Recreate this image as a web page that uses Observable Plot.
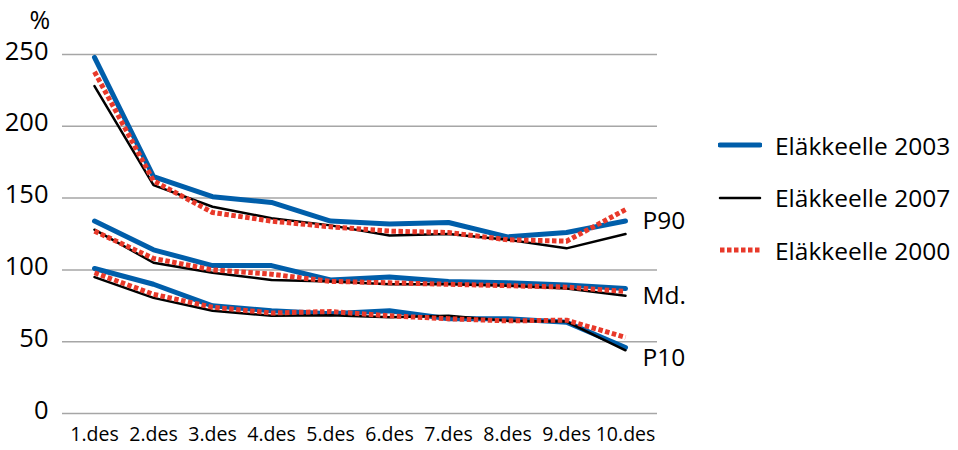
<!DOCTYPE html>
<html>
<head>
<meta charset="utf-8">
<script src="https://cdn.jsdelivr.net/npm/d3@7"></script>
<script src="https://cdn.jsdelivr.net/npm/@observablehq/plot@0.6"></script>
<style>
  html, body { margin: 0; padding: 0; background: #fff; }
  #wrap { position: relative; width: 958px; height: 450px; font-family: "Open Sans", sans-serif; }
  #legend { position: absolute; left: 718px; top: 119px; }
  .item { display: flex; align-items: center; height: 52.5px; font-size: 24.5px; color: #000; }
  .item svg { margin-right: 13px; }
</style>
</head>
<body>
<div id="wrap"></div>
<script>
const categories = ["1.des","2.des","3.des","4.des","5.des","6.des","7.des","8.des","9.des","10.des"];
const yTicks = [0, 50, 100, 150, 200, 250];
const seriesNames = ["Eläkkeelle 2003", "Eläkkeelle 2007", "Eläkkeelle 2000"];
const statNames = ["P90", "Md.", "P10"];

// P90
const p90_2003 = [248, 165, 151, 147, 134, 132, 133, 123, 126, 134];
const p90_2007 = [228, 159, 144, 136, 131, 124, 125, 121, 115, 125];
const p90_2000 = [238, 162, 140, 134, 130, 127, 126, 121, 120, 142];
// Median
const md_2003 = [134, 114, 103, 103, 93, 95, 92, 91, 89.5, 87];
const md_2007 = [128, 105, 98, 93, 92, 90, 90, 89, 87, 82];
const md_2000 = [127, 108, 100, 97, 92, 91, 90, 89, 88, 85];
// P10
const p10_2003 = [101, 90, 75, 71.5, 69.5, 71.5, 66, 66, 63.5, 46];
const p10_2007 = [95, 80.5, 71.5, 68, 68.5, 67, 68, 64.5, 64, 44];
const p10_2000 = [98, 83, 74, 70, 71, 68, 66, 64.5, 65, 53];

const groups = [
  {stat: "P90", s: [p90_2003, p90_2007, p90_2000], dy: 0},
  {stat: "Md.", s: [md_2003, md_2007, md_2000], dy: 4},
  {stat: "P10", s: [p10_2003, p10_2007, p10_2000], dy: 13}
];

const styles = {
  "Eläkkeelle 2003": {stroke: "#005EAA", strokeWidth: 5, dash: null},
  "Eläkkeelle 2007": {stroke: "#000000", strokeWidth: 2.5, dash: null},
  "Eläkkeelle 2000": {stroke: "#E8392A", strokeWidth: 5, dash: "4.5,2.5"}
};

const rows = [];
groups.forEach(g => g.s.forEach((arr, si) => arr.forEach((v, i) =>
  rows.push({decile: categories[i], value: v, series: seriesNames[si], stat: g.stat}))));

const lineMarks = seriesNames.map(name => {
  const st = styles[name];
  return Plot.line(rows.filter(d => d.series === name), {
    x: "decile", y: "value", z: "stat",
    stroke: st.stroke, strokeWidth: st.strokeWidth,
    strokeDasharray: st.dash, strokeLinecap: st.dash ? "butt" : "round",
    strokeLinejoin: "round"
  });
});

const labelMarks = groups.map(g => Plot.text([{
    stat: g.stat,
    decile: categories[categories.length - 1],
    value: d3.mean(g.s, a => a[a.length - 1])
  }], {
  x: "decile", y: "value", text: "stat",
  dx: 17, dy: g.dy, textAnchor: "start", lineAnchor: "middle", fontSize: 24.5, fill: "#000"
}));

const chart = Plot.plot({
  width: 958,
  height: 450,
  marginLeft: 62,
  marginRight: 301,
  marginTop: 54,
  marginBottom: 37,
  style: {fontFamily: "Open Sans, sans-serif", color: "#000", background: "#fff"},
  x: {type: "point", domain: categories, padding: 0.5, label: null},
  y: {domain: [0, 250], ticks: yTicks, label: null},
  marks: [
    Plot.gridY(yTicks, {stroke: "#A6A6A6", strokeOpacity: 1, strokeWidth: 1.5}),
    Plot.axisY(yTicks, {tickSize: 0, tickPadding: 14, fontSize: 25.5, dy: -3, label: null}),
    Plot.axisX({tickSize: 0, tickPadding: 14, fontSize: 19.5, label: null}),
    ...lineMarks,
    ...labelMarks,
    Plot.text(["%"], {frameAnchor: "top-left", dx: -33, dy: -34, lineAnchor: "middle", fontSize: 25, fill: "#000"})
  ]
});

const wrap = document.getElementById("wrap");
wrap.appendChild(chart);

const legend = document.createElement("div");
legend.id = "legend";
seriesNames.forEach(name => {
  const st = styles[name];
  const item = document.createElement("div");
  item.className = "item";
  const ns = "http://www.w3.org/2000/svg";
  const svg = document.createElementNS(ns, "svg");
  svg.setAttribute("width", 44);
  svg.setAttribute("height", 10);
  const ln = document.createElementNS(ns, "line");
  ln.setAttribute("x1", 2); ln.setAttribute("x2", 42);
  ln.setAttribute("y1", 5); ln.setAttribute("y2", 5);
  ln.setAttribute("stroke", st.stroke);
  ln.setAttribute("stroke-width", st.strokeWidth);
  if (st.dash) ln.setAttribute("stroke-dasharray", st.dash);
  else ln.setAttribute("stroke-linecap", "round");
  svg.appendChild(ln);
  const span = document.createElement("span");
  span.textContent = name;
  item.appendChild(svg);
  item.appendChild(span);
  legend.appendChild(item);
});
wrap.appendChild(legend);
</script>
</body>
</html>
